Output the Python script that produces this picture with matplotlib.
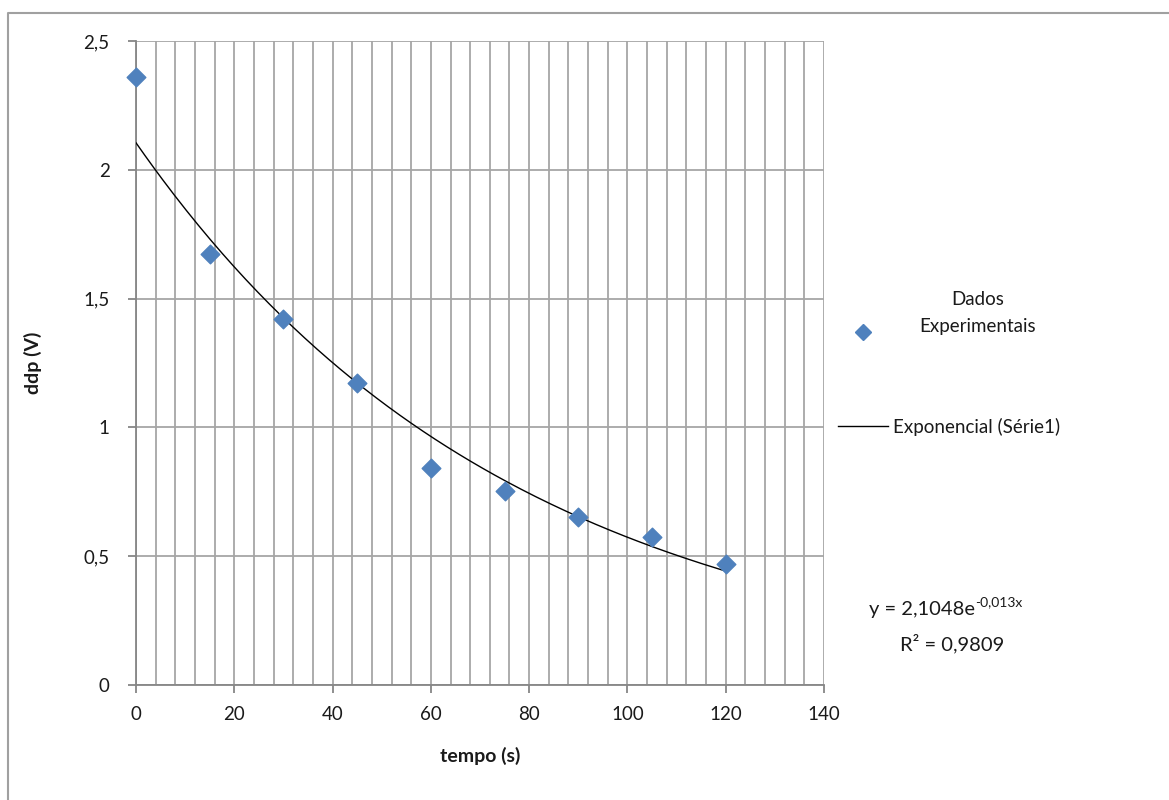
import matplotlib
matplotlib.use("Agg")
import matplotlib.pyplot as plt
import numpy as np
from matplotlib.lines import Line2D
from matplotlib.ticker import MultipleLocator

plt.rcParams['font.family'] = ['Lato', 'DejaVu Sans']

# Data
tempo = [0, 15, 30, 45, 60, 75, 90, 105, 120]
ddp = [2.36, 1.673, 1.421, 1.172, 0.842, 0.753, 0.652, 0.575, 0.470]
fit_a = 2.1048
fit_b = -0.013
x_ticks = [0, 20, 40, 60, 80, 100, 120, 140]
y_ticks = [0, 0.5, 1, 1.5, 2, 2.5]
y_tick_labels = ["0", "0,5", "1", "1,5", "2", "2,5"]

fig = plt.figure(figsize=(11.69, 8.0), dpi=100)
ax = fig.add_axes([136/1169, 1 - 685/800, (824-136)/1169, (685-41)/800])

grid_c = '#a6a6a6'
txt_c = '#1a1a1a'
ax.set_xlim(0, 140)
ax.set_ylim(0, 2.5)
ax.set_xticks(x_ticks)
ax.xaxis.set_minor_locator(MultipleLocator(4))
ax.set_yticks(y_ticks)
ax.set_yticklabels(y_tick_labels)
ax.grid(which='both', axis='x', color=grid_c, lw=1.3)
ax.grid(which='major', axis='y', color=grid_c, lw=1.3)
ax.set_axisbelow(True)
for s in ['top', 'right']:
    ax.spines[s].set_visible(False)
for s in ['left', 'bottom']:
    ax.spines[s].set_color('#868686')
    ax.spines[s].set_linewidth(1.3)
ax.tick_params(axis='both', which='major', length=6, width=1.3, color='#868686',
               labelsize=13.5, labelcolor=txt_c)
ax.tick_params(axis='x', which='minor', length=0)
ax.tick_params(axis='x', pad=9)
ax.tick_params(axis='y', pad=13)

xf = np.linspace(0, 120, 200)
ax.plot(xf, fit_a * np.exp(fit_b * xf), color='black', lw=1.0, zorder=3)
ax.scatter(tempo, ddp, marker='D', s=90, color='#4f81bd', zorder=4, clip_on=False)

ax.set_xlabel('tempo (s)', fontsize=14, fontweight='bold', labelpad=17, color=txt_c)
ax.set_ylabel('ddp (V)', fontsize=14, fontweight='bold', labelpad=30, color=txt_c)

# Legend (manual)
fig.add_artist(Line2D([863/1169], [1 - 332/800], marker='D', markersize=8.5,
                      color='#4f81bd', transform=fig.transFigure, lw=0))
fig.text(978/1169, 1 - 313/800, 'Dados\nExperimentais', ha='center', va='center',
         fontsize=13.5, color=txt_c, linespacing=1.75)
fig.add_artist(Line2D([838/1169, 888/1169], [1 - 426/800, 1 - 426/800],
                      color='black', lw=1.0, transform=fig.transFigure))
fig.text(893/1169, 1 - 427/800, 'Exponencial (Série1)', ha='left', va='center',
         fontsize=13.5, color=txt_c)

# Equation
t1 = fig.text(869/1169, 1 - 609/800, 'y = 2,1048e', ha='left',
              va='center', fontsize=14.5, color=txt_c)
ax.annotate('-0,013x', xy=(1, 0.88), xycoords=t1, ha='left', va='center',
            fontsize=10, color=txt_c)
fig.text(900/1169, 1 - 644/800, 'R² = 0,9809', ha='left',
         va='center', fontsize=14.5, color=txt_c)

# Outer chart border
fig.add_artist(Line2D([8/1169, 8/1169, 1.0], [0.0, 1 - 12.5/800, 1 - 12.5/800],
                      color='#a0a0a0', lw=1.5, transform=fig.transFigure))

fig.savefig('out.png', dpi=100, facecolor='white')
